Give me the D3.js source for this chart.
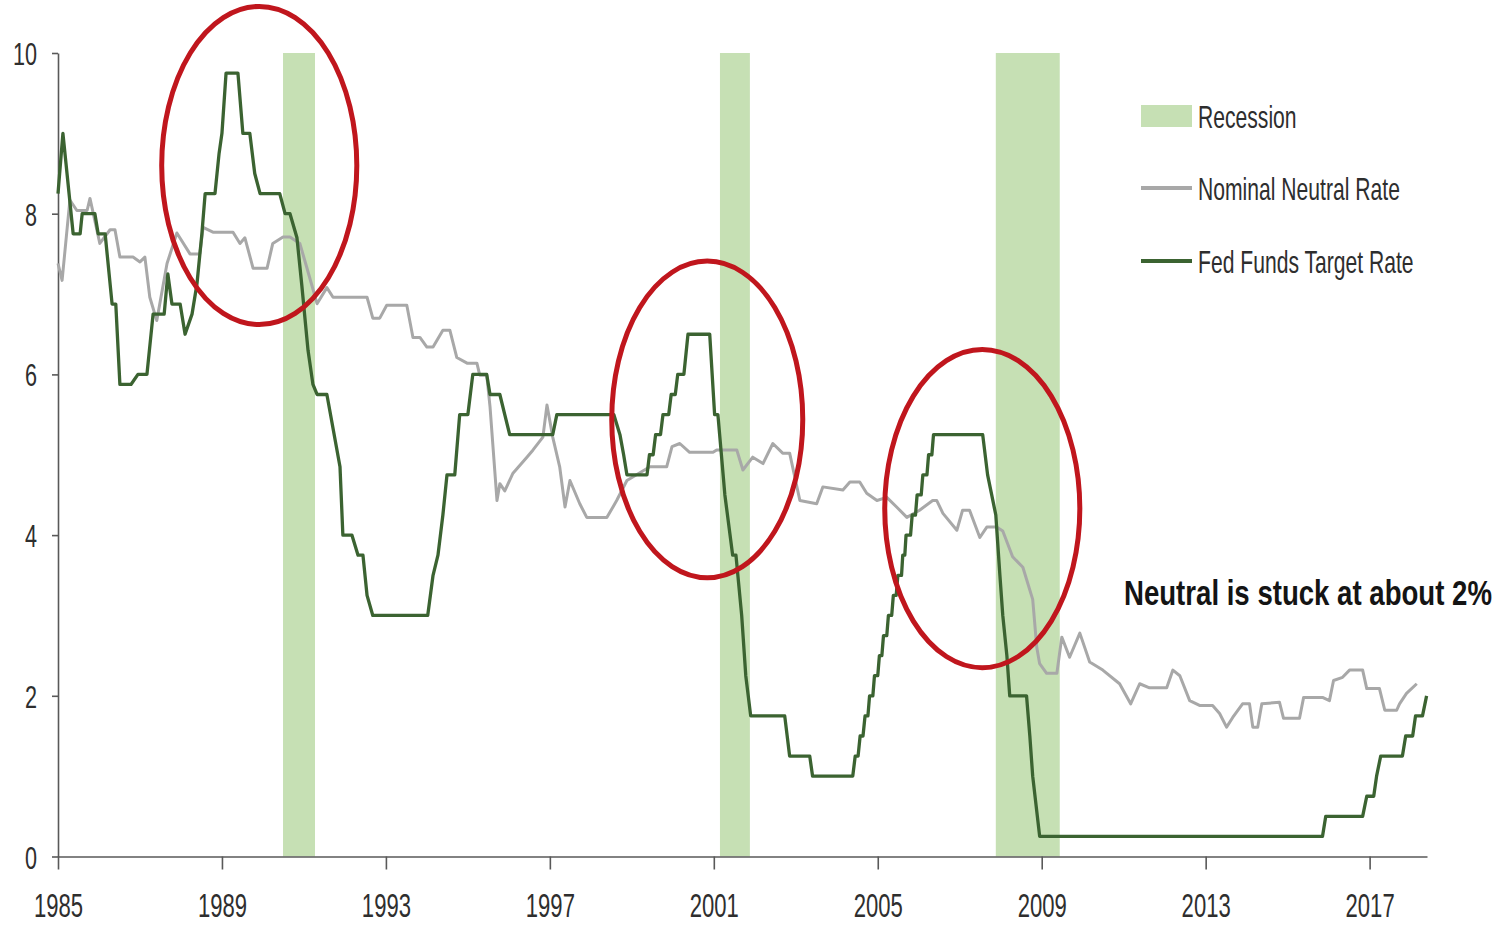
<!DOCTYPE html>
<html>
<head>
<meta charset="utf-8">
<script src="https://cdn.jsdelivr.net/npm/d3@7"></script>
<style>
  html, body { margin: 0; padding: 0; background: #ffffff; }
  svg { display: block; }
</style>
</head>
<body>
<svg id="chart" width="1508" height="925"></svg>
<script>
// ---- Data -------------------------------------------------------------
// Fed funds target rate (upper bound), [decimal year, percent]
const fedFundsTarget = [
  [1985.00,8.25],[1985.12,9.00],[1985.37,7.75],[1985.54,7.75],[1985.59,8.00],[1985.90,8.00],
  [1985.98,7.75],[1986.15,7.75],[1986.32,6.875],[1986.41,6.875],[1986.51,5.875],[1986.78,5.875],
  [1986.95,6.00],[1987.17,6.00],[1987.32,6.75],[1987.59,6.75],[1987.68,7.25],[1987.78,6.875],
  [1987.98,6.875],[1988.10,6.50],[1988.27,6.75],[1988.39,7.125],[1988.51,7.75],[1988.59,8.25],
  [1988.83,8.25],[1988.93,8.75],[1989.00,9.00],[1989.10,9.75],[1989.39,9.75],[1989.51,9.00],
  [1989.68,9.00],[1989.80,8.50],[1989.93,8.25],[1990.41,8.25],[1990.54,8.00],[1990.66,8.00],
  [1990.83,7.70],[1990.95,7.10],[1991.10,6.30],[1991.22,5.875],[1991.32,5.75],[1991.56,5.75],
  [1991.88,4.85],[1991.95,4.00],[1992.17,4.00],[1992.32,3.75],[1992.44,3.75],[1992.54,3.25],
  [1992.68,3.00],[1994.02,3.00],[1994.15,3.50],[1994.27,3.75],[1994.39,4.25],[1994.49,4.75],
  [1994.68,4.75],[1994.80,5.50],[1995.00,5.50],[1995.12,6.00],[1995.46,6.00],[1995.54,5.75],
  [1995.78,5.75],[1995.90,5.50],[1996.02,5.25],[1997.07,5.25],[1997.17,5.50],[1998.56,5.50],
  [1998.71,5.25],[1998.80,5.00],[1998.88,4.75],[1999.37,4.75],[1999.43,5.00],[1999.52,5.00],
  [1999.58,5.25],[1999.70,5.25],[1999.76,5.50],[1999.90,5.50],[1999.96,5.75],[2000.06,5.75],
  [2000.12,6.00],[2000.27,6.00],[2000.37,6.50],[2000.90,6.50],
  [2001.02,5.50],[2001.10,5.50],[2001.27,4.50],[2001.46,3.75],[2001.54,3.75],[2001.68,3.00],
  [2001.78,2.25],[2001.90,1.75],[2002.73,1.75],[2002.85,1.25],[2003.34,1.25],[2003.41,1.00],
  [2004.39,1.00],[2004.45,1.25],[2004.52,1.25],[2004.57,1.50],[2004.64,1.50],[2004.69,1.75],
  [2004.76,1.75],[2004.80,2.00],[2004.88,2.00],[2004.92,2.25],[2005.00,2.25],[2005.04,2.50],
  [2005.10,2.50],[2005.14,2.75],[2005.22,2.75],[2005.26,3.00],[2005.34,3.00],[2005.38,3.25],
  [2005.45,3.25],[2005.49,3.50],[2005.58,3.50],[2005.61,3.75],[2005.66,3.75],[2005.69,4.00],
  [2005.80,4.00],[2005.84,4.25],[2005.92,4.25],[2005.96,4.50],[2006.06,4.50],[2006.10,4.75],
  [2006.20,4.75],[2006.24,5.00],[2006.32,5.00],[2006.36,5.25],[2007.56,5.25],[2007.68,4.75],
  [2007.78,4.50],[2007.88,4.25],[2007.98,3.50],[2008.05,3.00],[2008.15,2.50],[2008.22,2.00],
  [2008.63,2.00],[2008.71,1.50],[2008.78,1.00],[2008.95,0.25],[2015.85,0.25],[2015.93,0.50],
  [2016.83,0.50],[2016.93,0.75],[2017.10,0.75],[2017.17,1.00],[2017.27,1.25],[2017.80,1.25],
  [2017.88,1.50],[2018.05,1.50],[2018.12,1.75],[2018.29,1.75],[2018.39,2.00]
];

// Nominal neutral rate estimate, [decimal year, percent]
const nominalNeutral = [
  [1985.00,7.38],[1985.10,7.17],[1985.29,8.17],[1985.46,8.04],[1985.71,8.04],[1985.78,8.19],
  [1986.02,7.63],[1986.27,7.80],[1986.39,7.80],[1986.51,7.46],[1986.83,7.46],[1987.00,7.40],
  [1987.12,7.46],[1987.24,6.96],[1987.41,6.67],[1987.66,7.38],[1987.90,7.76],[1988.22,7.50],
  [1988.46,7.50],[1988.54,7.83],[1988.78,7.77],[1989.27,7.77],[1989.44,7.63],[1989.56,7.70],
  [1989.76,7.32],[1990.10,7.32],[1990.24,7.63],[1990.49,7.71],[1990.66,7.71],[1990.90,7.63],
  [1991.07,7.33],[1991.32,6.88],[1991.56,7.08],[1991.71,6.96],[1992.54,6.96],[1992.68,6.70],
  [1992.85,6.70],[1993.02,6.86],[1993.51,6.86],[1993.66,6.46],[1993.83,6.46],[1994.00,6.34],
  [1994.15,6.34],[1994.39,6.55],[1994.56,6.55],[1994.73,6.21],[1994.98,6.14],[1995.22,6.14],
  [1995.29,5.99],[1995.46,5.99],[1995.54,5.60],[1995.71,4.43],[1995.78,4.64],[1995.90,4.55],
  [1996.10,4.77],[1996.44,4.97],[1996.59,5.06],[1996.83,5.22],[1996.93,5.62],[1997.07,5.22],
  [1997.24,4.85],[1997.37,4.35],[1997.49,4.68],[1997.73,4.39],[1997.90,4.22],[1998.39,4.22],
  [1998.54,4.35],[1998.63,4.43],[1998.88,4.68],[1999.44,4.85],[1999.85,4.85],[1999.98,5.10],
  [2000.17,5.14],[2000.41,5.03],[2000.98,5.03],[2001.07,5.06],[2001.56,5.06],[2001.71,4.81],
  [2001.95,4.97],[2002.20,4.89],[2002.44,5.14],[2002.68,5.02],[2002.85,5.02],[2003.10,4.43],
  [2003.51,4.39],[2003.66,4.60],[2004.15,4.56],[2004.32,4.66],[2004.56,4.66],[2004.73,4.52],
  [2004.98,4.43],[2005.22,4.47],[2005.46,4.35],[2005.71,4.22],[2006.02,4.31],[2006.34,4.43],
  [2006.44,4.43],[2006.59,4.27],[2006.93,4.06],[2007.07,4.31],[2007.24,4.31],[2007.49,3.97],
  [2007.66,4.10],[2007.90,4.10],[2008.05,4.05],[2008.29,3.73],[2008.54,3.60],[2008.78,3.20],
  [2008.88,2.60],[2008.95,2.40],[2009.12,2.28],[2009.37,2.28],[2009.49,2.73],[2009.68,2.48],
  [2009.93,2.78],[2010.17,2.42],[2010.49,2.32],[2010.90,2.15],[2011.17,1.90],[2011.39,2.15],
  [2011.63,2.10],[2012.05,2.10],[2012.20,2.32],[2012.37,2.25],[2012.61,1.94],[2012.85,1.88],
  [2013.17,1.88],[2013.34,1.78],[2013.51,1.61],[2013.66,1.73],[2013.90,1.90],[2014.07,1.90],
  [2014.15,1.61],[2014.27,1.61],[2014.37,1.90],[2014.80,1.92],[2014.90,1.72],[2015.29,1.72],
  [2015.39,1.98],[2015.85,1.98],[2016.02,1.94],[2016.12,2.19],[2016.34,2.23],[2016.51,2.32],
  [2016.83,2.32],[2016.93,2.09],[2017.24,2.09],[2017.37,1.82],[2017.66,1.82],[2017.73,1.90],
  [2017.90,2.03],[2018.15,2.15]
];

// Recession periods (decimal years)
const recessionStart = [1990.49, 2001.15, 2007.88];
const recessionEnd   = [1991.27, 2001.88, 2009.44];

// Highlighted episodes: centre (year, rate) and half-extent (years, points)
const highlightYear     = [1989.91, 2000.84, 2007.55];
const highlightRate     = [8.60, 5.44, 4.33];
const highlightHalfYear = [2.38, 2.33, 2.38];
const highlightHalfRate = [1.98, 1.97, 1.98];

// Axis ticks and labels
const xTickYears = [1985, 1989, 1993, 1997, 2001, 2005, 2009, 2013, 2017];
const yTickValues = [0, 2, 4, 6, 8, 10];
const legendLabels = ["Recession", "Nominal Neutral Rate", "Fed Funds Target Rate"];
const noteText = "Neutral is stuck at about 2%";

// ---- Styling ----------------------------------------------------------
// Narrow, tall lettering: a regular sans face squeezed horizontally.
const FONT = "'Liberation Sans', Arial, sans-serif";
const COLOR_FED = "#3b6331";
const COLOR_NEUTRAL = "#a8a8a8";
const COLOR_RECESSION = "#c6e0b4";
const COLOR_RING = "#c0161d";
const COLOR_AXIS = "#595959";
const COLOR_TEXT = "#2e2e2e";

const svg = d3.select("#chart");

const x = d3.scaleLinear().domain([1985, 2018.4]).range([58, 1427]);
const y = d3.scaleLinear().domain([0, 10]).range([856.5, 53]);

// Recession shading
svg.append("g").selectAll("rect")
  .data(recessionStart.map((s, i) => [s, recessionEnd[i]]))
  .join("rect")
  .attr("x", d => x(d[0]))
  .attr("width", d => x(d[1]) - x(d[0]))
  .attr("y", y(10))
  .attr("height", y(0) - y(10))
  .attr("fill", COLOR_RECESSION);

// Axes
const xAxis = d3.axisBottom(x)
  .tickValues(xTickYears)
  .tickFormat(d3.format("d"))
  .tickSize(13)
  .tickSizeOuter(0);

const yAxis = d3.axisLeft(y)
  .tickValues(yTickValues)
  .tickFormat(d3.format("d"))
  .tickSize(6)
  .tickSizeOuter(0);

const gx = svg.append("g")
  .attr("transform", `translate(0,${y(0)})`)
  .call(xAxis);

const gy = svg.append("g")
  .attr("transform", `translate(${x(1985)},0)`)
  .call(yAxis);

[gx, gy].forEach(g => {
  g.attr("font-family", FONT).attr("font-size", 24);
  g.select(".domain").attr("stroke", COLOR_AXIS).attr("stroke-width", 1.6);
  g.selectAll(".tick line").attr("stroke", COLOR_AXIS).attr("stroke-width", 1.6);
  g.selectAll(".tick text").attr("fill", COLOR_TEXT);
});

gx.selectAll(".tick text")
  .attr("y", null).attr("dy", null)
  .attr("text-anchor", "middle")
  .attr("transform", "translate(0,60.5) scale(0.92,1.42)");

gy.selectAll(".tick text")
  .attr("x", null).attr("dy", null)
  .attr("text-anchor", "end")
  .attr("transform", "translate(-21,11.5) scale(0.9,1.32)");

// Series lines
const line = d3.line()
  .x(d => x(d[0]))
  .y(d => y(d[1]));

svg.append("path")
  .datum(nominalNeutral)
  .attr("d", line)
  .attr("fill", "none")
  .attr("stroke", COLOR_NEUTRAL)
  .attr("stroke-width", 3)
  .attr("stroke-linejoin", "round");

svg.append("path")
  .datum(fedFundsTarget)
  .attr("d", line)
  .attr("fill", "none")
  .attr("stroke", COLOR_FED)
  .attr("stroke-width", 3.3)
  .attr("stroke-linejoin", "round");

// Highlight rings
svg.append("g").selectAll("ellipse")
  .data(highlightYear.map((yr, i) => i))
  .join("ellipse")
  .attr("cx", i => x(highlightYear[i]))
  .attr("cy", i => y(highlightRate[i]))
  .attr("rx", i => x(highlightYear[i] + highlightHalfYear[i]) - x(highlightYear[i]))
  .attr("ry", i => y(highlightRate[i] - highlightHalfRate[i]) - y(highlightRate[i]))
  .attr("fill", "none")
  .attr("stroke", COLOR_RING)
  .attr("stroke-width", 5);

// Legend
const legend = svg.append("g")
  .attr("transform", "translate(1141,0)")
  .attr("font-family", FONT)
  .attr("font-size", 24)
  .attr("fill", COLOR_TEXT);

const legendRowY = [116, 188, 261];

legend.append("rect")
  .attr("x", 0).attr("y", legendRowY[0] - 11)
  .attr("width", 51).attr("height", 22)
  .attr("fill", COLOR_RECESSION);

legend.append("line")
  .attr("x1", 0).attr("x2", 51)
  .attr("y1", legendRowY[1]).attr("y2", legendRowY[1])
  .attr("stroke", COLOR_NEUTRAL).attr("stroke-width", 4);

legend.append("line")
  .attr("x1", 0).attr("x2", 51)
  .attr("y1", legendRowY[2]).attr("y2", legendRowY[2])
  .attr("stroke", COLOR_FED).attr("stroke-width", 4);

legend.selectAll("text")
  .data(legendLabels)
  .join("text")
  .attr("transform", (d, i) => `translate(57,${legendRowY[i] + 12}) scale(0.88,1.28)`)
  .text(d => d);

// Note
svg.append("text")
  .attr("transform", "translate(1124,605) scale(0.92,1.16)")
  .attr("font-family", FONT)
  .attr("font-size", 30)
  .attr("font-weight", "bold")
  .attr("fill", "#141414")
  .text(noteText);
</script>
</body>
</html>
